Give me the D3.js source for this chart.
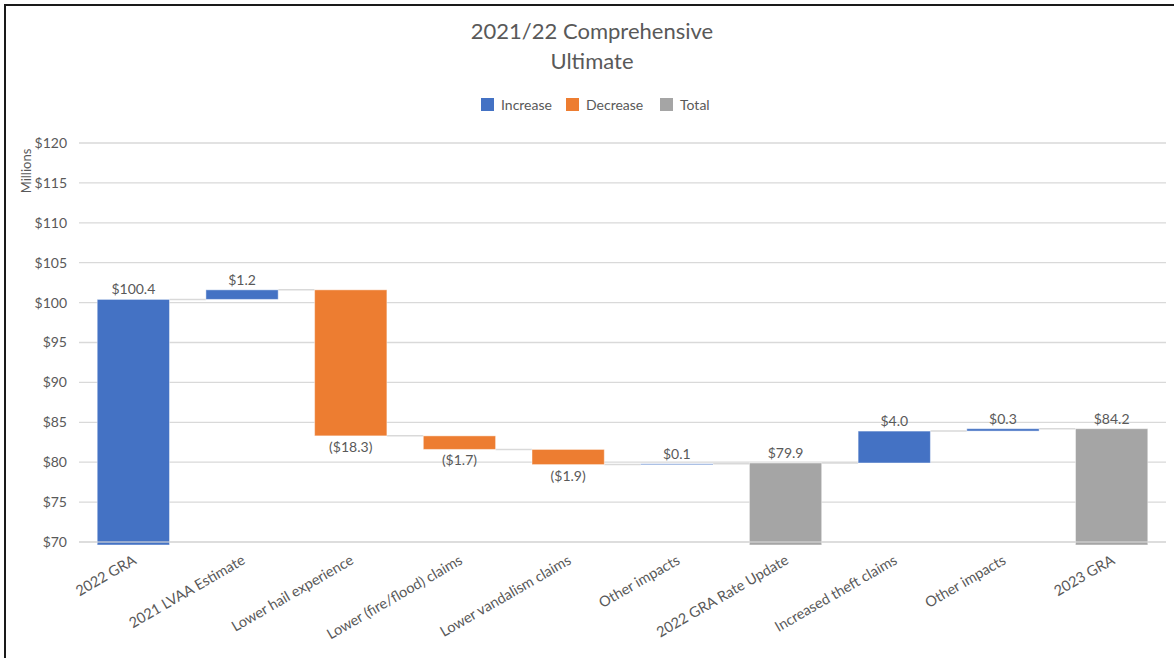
<!DOCTYPE html>
<html>
<head>
<meta charset="utf-8">
<script src="https://cdn.jsdelivr.net/npm/d3@7"></script>
<style>
  html, body { margin: 0; padding: 0; background: #fff; }
  svg { display: block; font-family: Lato, "Open Sans", sans-serif; }
</style>
</head>
<body>
<svg id="chart" width="1174" height="658"></svg>
<script>
// Waterfall steps, in millions of dollars
const categories = [
  "2022 GRA", "2021 LVAA Estimate", "Lower hail experience",
  "Lower (fire/flood) claims", "Lower vandalism claims", "Other impacts",
  "2022 GRA Rate Update", "Increased theft claims", "Other impacts", "2023 GRA"
];
const values = [100.4, 1.2, -18.3, -1.7, -1.9, 0.1, 79.9, 4.0, 0.3, 84.2];
const kinds = ["Increase", "Increase", "Decrease", "Decrease", "Decrease",
               "Increase", "Total", "Increase", "Increase", "Total"];
const yTicks = [70, 75, 80, 85, 90, 95, 100, 105, 110, 115, 120];
const legendItems = ["Increase", "Decrease", "Total"];
const titleLines = ["2021/22 Comprehensive", "Ultimate"];

const colors = { Increase: "#4472C4", Decrease: "#ED7D31", Total: "#A5A5A5" };
const textColor = "#595959";
const gridColor = "#D9D9D9";

const svg = d3.select("#chart");
const W = 1174, H = 658;
const plot = { left: 79, right: 1166, top: 143, bottom: 542 };

// Frame around the chart area
svg.append("rect")
  .attr("x", 5).attr("y", 5).attr("width", W + 20).attr("height", H + 20)
  .attr("fill", "#fff").attr("stroke", "#1a1a1a").attr("stroke-width", 2);

// Running totals; a Total step resets the level to its own value
let level = 0;
const steps = values.map((v, i) => {
  let start, end;
  if (kinds[i] === "Total") { start = 0; end = v; }
  else { start = level; end = level + v; }
  level = end;
  return { i, cat: categories[i], value: v, kind: kinds[i], start, end };
});

const x = d3.scaleBand()
  .domain(d3.range(categories.length))
  .range([plot.left, plot.right])
  .paddingInner(0.335)
  .paddingOuter(0.1675);

const y = d3.scaleLinear().domain([70, 120]).range([plot.bottom, plot.top]);
const yMin = y.domain()[0];

// Title
svg.append("g").selectAll("text").data(titleLines).join("text")
  .attr("x", 592).attr("y", (d, i) => 39 + i * 30)
  .attr("text-anchor", "middle")
  .attr("fill", textColor)
  .attr("font-size", 22)
  .text(d => d);

// Legend
const legendX = [481, 566, 660];
const lg = svg.append("g").selectAll("g").data(legendItems).join("g")
  .attr("transform", (d, i) => `translate(${legendX[i]},98)`);
lg.append("rect").attr("width", 13).attr("height", 13).attr("fill", d => colors[d]);
lg.append("text").attr("x", 20).attr("y", 11.5)
  .attr("fill", textColor).attr("font-size", 14).text(d => d);

// Horizontal gridlines
svg.append("g").selectAll("line").data(yTicks).join("line")
  .attr("x1", plot.left).attr("x2", plot.right)
  .attr("y1", d => y(d)).attr("y2", d => y(d))
  .attr("stroke", gridColor).attr("stroke-width", 1.3);

// Y axis labels
const yAxis = d3.axisLeft(y).tickValues(yTicks).tickFormat(d => "$" + d).tickSize(0).tickPadding(12);
const ya = svg.append("g").attr("transform", `translate(${plot.left},0)`).call(yAxis);
ya.select(".domain").remove();
ya.selectAll("text").attr("fill", textColor).attr("font-size", 14)
  .attr("font-family", "Lato, 'Open Sans', sans-serif");

// Y axis title
svg.append("text")
  .attr("transform", "translate(31,171) rotate(-90)")
  .attr("text-anchor", "middle")
  .attr("fill", textColor).attr("font-size", 13)
  .text("Millions");

// Connectors between consecutive bars
const conn = steps.slice(0, -1).map((s, k) => ({ from: s, to: steps[k + 1] }));
svg.append("g").selectAll("line").data(conn).join("line")
  .attr("x1", d => x(d.from.i) + x.bandwidth())
  .attr("x2", d => x(d.to.i))
  .attr("y1", d => y(d.from.end)).attr("y2", d => y(d.from.end))
  .attr("stroke", gridColor).attr("stroke-width", 1.5);

// Bars, clipped at the axis minimum
const barTop = s => y(Math.max(s.start, s.end));
const barBottom = s => {
  const lo = Math.min(s.start, s.end);
  return lo < yMin ? y(yMin) + 3 : y(lo);
};
svg.append("g").selectAll("rect").data(steps).join("rect")
  .attr("x", s => x(s.i))
  .attr("width", x.bandwidth())
  .attr("y", barTop)
  .attr("height", s => Math.max(1, barBottom(s) - barTop(s)))
  .attr("fill", s => colors[s.kind])
  .attr("stroke", "rgba(255,255,255,0.45)")
  .attr("stroke-width", 1);

// Baseline drawn over the bars
svg.append("line")
  .attr("x1", plot.left).attr("x2", plot.right)
  .attr("y1", y(yMin)).attr("y2", y(yMin))
  .attr("stroke", "rgba(217,217,217,0.75)").attr("stroke-width", 1.3);

// Data labels
const fmt = v => v < 0 ? "($" + Math.abs(v).toFixed(1) + ")" : "$" + v.toFixed(1);
svg.append("g").selectAll("text").data(steps).join("text")
  .attr("x", s => x(s.i) + x.bandwidth() / 2)
  .attr("y", s => s.kind === "Decrease" ? barBottom(s) + 16 : barTop(s) - 5)
  .attr("text-anchor", "middle")
  .attr("fill", textColor).attr("font-size", 14)
  .text(s => fmt(s.value));

// Category labels, rotated
svg.append("g").selectAll("text").data(steps).join("text")
  .attr("transform", s => `translate(${x(s.i) + x.bandwidth() / 2 + 4},563) rotate(-30)`)
  .attr("text-anchor", "end")
  .attr("fill", textColor).attr("font-size", 14.5)
  .text(s => s.cat);
</script>
</body>
</html>
